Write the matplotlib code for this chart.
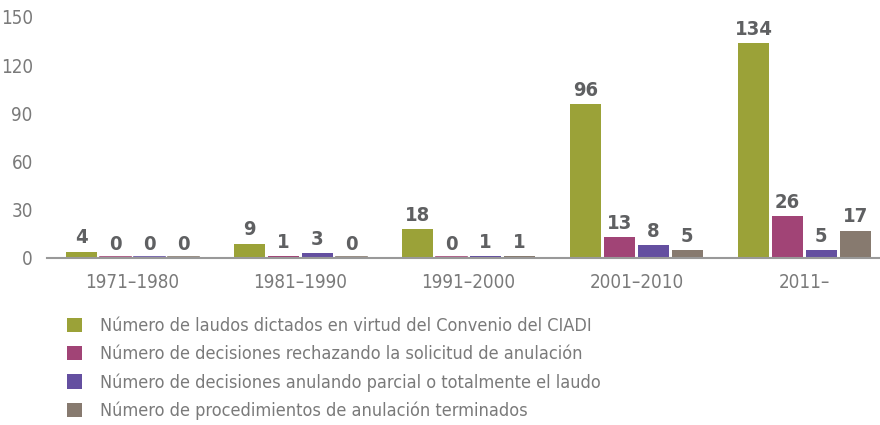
import numpy as np
import matplotlib.pyplot as plt

# Datos
periodos = ['1971\u20131980', '1981\u20131990', '1991\u20132000', '2001\u20132010', '2011\u2013']
laudos = [4, 9, 18, 96, 134]
rechazos = [0, 1, 0, 13, 26]
anulaciones = [0, 3, 1, 8, 5]
terminados = [0, 0, 1, 5, 17]

series = [laudos, rechazos, anulaciones, terminados]
etiquetas = [
    'Número de laudos dictados en virtud del Convenio del CIADI',
    'Número de decisiones rechazando la solicitud de anulación',
    'Número de decisiones anulando parcial o totalmente el laudo',
    'Número de procedimientos de anulación terminados',
]
colores = ['#9ba238', '#a14476', '#644fa0', '#877a6f']

plt.rcParams['font.family'] = ['DejaVu Sans']
plt.rcParams['font.stretch'] = 'condensed'

fig = plt.figure(figsize=(8.8, 4.25), dpi=100)
ax = fig.add_axes([0.053, 0.393, 0.947, 0.567])

x = np.arange(len(periodos))
ancho = 0.185
paso = 0.202
for i, (valores, color) in enumerate(zip(series, colores)):
    pos = x + (i - 1.5) * paso
    barras = ax.bar(pos, valores, width=ancho, color=color, label=etiquetas[i])
    # las barras en cero se ven como una linea fina
    for p, v in zip(pos, valores):
        if v == 0:
            ax.plot([p - ancho / 2, p + ancho / 2], [0.4, 0.4], color=color, lw=1.2)
    ax.bar_label(barras, padding=3, fontsize=14.5, fontweight='bold', color='#5f6062')

ax.set_ylim(0, 150)
ax.set_xlim(-0.51, 4.45)
ax.set_yticks(range(0, 151, 30))
ax.set_xticks(x)
ax.set_xticklabels(periodos)
ax.tick_params(axis='both', length=0, labelsize=13.5, labelcolor='#7a7a7a')
ax.tick_params(axis='x', pad=11)
ax.tick_params(axis='y', pad=10)
for lado in ['top', 'right', 'left']:
    ax.spines[lado].set_visible(False)
ax.spines['bottom'].set_color('#999999')
ax.spines['bottom'].set_linewidth(1.5)

fig.legend(loc='upper left', bbox_to_anchor=(0.068, 0.27), frameon=False,
           fontsize=13, labelcolor='#7a7a7a', handlelength=0.85, handleheight=0.85,
           handletextpad=1.0, labelspacing=0.55, borderaxespad=0)

fig.savefig('out.png', dpi=100)
